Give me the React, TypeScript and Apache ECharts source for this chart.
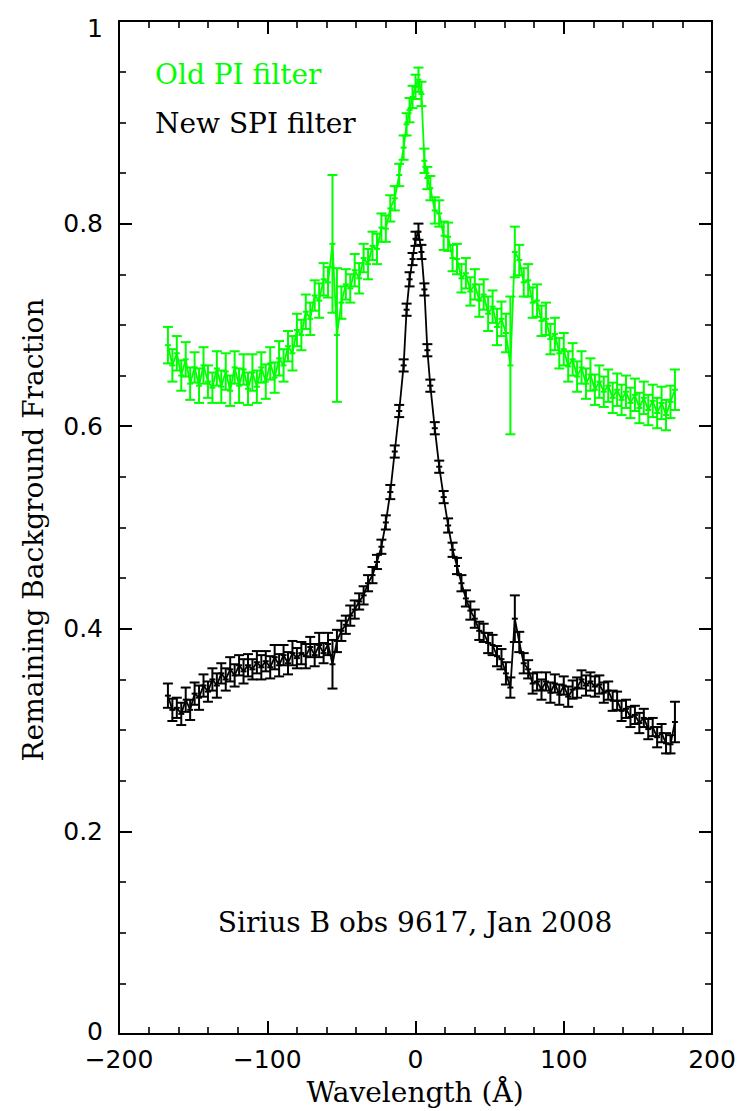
import React, { useEffect, useRef } from "react";
import * as echarts from "echarts";

const wavelength = [-167,-164,-161,-158,-155,-152,-149,-146,-143,-140,-137,-134,-131,-128,-125,-122,-119,-116,-113,-110,-107,-104,-101,-98,-95,-92,-89,-86,-83,-80,-77,-74,-71,-68,-65,-62,-59,-56,-53,-50,-47,-44,-41,-38,-35,-32,-29,-26,-23,-20,-17,-14,-11,-8,-6,-4,-2,0,2,4,6,8,10,13,16,19,22,25,28,31,34,37,40,43,46,49,52,55,58,61,64,67,70,73,76,79,82,85,88,91,94,97,100,103,106,109,112,115,118,121,124,127,130,133,136,139,142,145,148,151,154,157,160,163,166,169,172,175];

const oldPI = [
0.680,0.660,0.672,0.650,0.666,0.642,0.658,0.640,0.660,0.644,
0.638,0.657,0.639,0.654,0.635,0.658,0.640,0.656,0.637,0.653,
0.639,0.658,0.644,0.662,0.648,0.667,0.660,0.679,0.672,0.695,
0.690,0.713,0.706,0.729,0.724,0.745,0.742,0.780,0.690,0.722,
0.740,0.736,0.754,0.746,0.766,0.760,0.778,0.775,0.796,0.795,
0.815,
0.825,0.848,0.875,0.898,0.912,0.925,0.935,0.942,0.928,0.862,0.845,
0.835,0.813,0.810,0.788,0.787,0.766,0.765,0.746,0.751,0.733,
0.740,0.724,0.730,0.711,0.718,0.698,0.706,0.692,0.660,0.772,
0.764,0.742,0.744,0.722,0.724,0.704,0.706,0.686,0.691,0.672,
0.676,0.659,0.666,0.649,0.658,0.642,0.651,0.636,0.644,0.634,
0.640,0.628,0.636,0.626,0.634,0.623,0.631,0.618,0.628,0.616,
0.625,0.613,0.623,0.611,0.624,0.636];

const oldPIErr = [
0.018,0.016,0.017,0.015,0.017,0.016,0.015,0.017,0.018,0.016,
0.015,0.017,0.016,0.018,0.015,0.016,0.017,0.015,0.016,0.018,
0.016,0.015,0.017,0.016,0.015,0.017,0.016,0.015,0.017,0.016,
0.015,0.017,0.016,0.015,0.017,0.016,0.015,0.068,0.066,0.016,
0.015,0.014,0.016,0.015,0.014,0.015,0.014,0.015,0.014,0.013,
0.013,
0.012,0.011,0.012,0.011,0.012,0.011,0.012,0.012,0.012,0.012,0.011,
0.012,0.013,0.013,0.014,0.014,0.013,0.015,0.014,0.015,0.014,
0.015,0.016,0.015,0.017,0.016,0.018,0.017,0.019,0.068,0.025,
0.015,0.014,0.016,0.015,0.016,0.015,0.016,0.015,0.016,0.015,
0.016,0.015,0.016,0.015,0.016,0.015,0.016,0.015,0.016,0.015,
0.016,0.015,0.016,0.015,0.016,0.015,0.016,0.015,0.016,0.015,
0.016,0.015,0.016,0.015,0.016,0.020];

const newSPI = [
0.334,0.320,0.322,0.316,0.330,0.320,0.336,0.332,0.344,0.338,
0.350,0.344,0.356,0.350,0.360,0.354,0.364,0.358,0.364,0.360,
0.367,0.362,0.368,0.362,0.372,0.364,0.374,0.366,0.376,0.371,
0.376,0.373,0.382,0.374,0.384,0.376,0.385,0.365,0.388,0.398,
0.404,0.413,0.419,0.427,0.433,0.445,0.453,0.466,0.481,0.505,
0.535,
0.575,0.615,0.660,0.715,0.745,0.765,0.785,0.792,0.772,0.735,0.675,
0.640,0.598,0.560,0.530,0.502,0.478,0.462,0.445,0.430,0.418,
0.410,0.398,0.396,0.386,0.384,0.373,0.370,0.356,0.342,0.410,
0.387,0.366,0.360,0.346,0.348,0.340,0.348,0.337,0.346,0.335,
0.344,0.333,0.340,0.342,0.350,0.344,0.348,0.343,0.345,0.337,
0.339,0.329,0.329,0.319,0.321,0.313,0.315,0.307,0.312,0.301,
0.303,0.293,0.297,0.287,0.286,0.308];

const newSPIErr = [
0.012,0.011,0.010,0.011,0.012,0.010,0.011,0.012,0.011,0.010,
0.011,0.012,0.010,0.011,0.012,0.011,0.010,0.012,0.011,0.010,
0.011,0.012,0.010,0.011,0.012,0.011,0.010,0.011,0.012,0.010,
0.011,0.012,0.010,0.011,0.012,0.010,0.011,0.024,0.011,0.010,
0.009,0.010,0.009,0.008,0.009,0.008,0.008,0.007,0.007,0.007,
0.007,
0.006,0.006,0.006,0.006,0.007,0.006,0.007,0.008,0.007,0.006,0.006,
0.006,0.006,0.006,0.006,0.007,0.007,0.008,0.008,0.008,0.009,
0.009,0.009,0.009,0.010,0.010,0.010,0.010,0.011,0.010,0.023,
0.010,0.010,0.009,0.010,0.009,0.010,0.009,0.010,0.009,0.010,
0.009,0.010,0.009,0.010,0.009,0.010,0.009,0.010,0.009,0.010,
0.009,0.010,0.009,0.010,0.009,0.010,0.009,0.010,0.009,0.010,
0.009,0.010,0.009,0.010,0.009,0.020];

const xTicks = { min: -200, max: 200, interval: 100 };
const yTicks = { min: 0, max: 1, interval: 0.2 };

const GREEN = "#00ff00";
const BLACK = "#000000";
const SERIF = "DejaVu Serif";
const SANS = "DejaVu Sans";

function errorSeries(name: string, vals: number[], errs: number[], color: string) {
  const data = wavelength.map((x, i) => [x, vals[i], errs[i]]);
  return {
    name: name + " errors",
    type: "custom",
    xAxisIndex: 0,
    yAxisIndex: 0,
    encode: { x: 0, y: 1 },
    data,
    renderItem: (_params: any, api: any) => {
      const x = api.value(0);
      const y = api.value(1);
      const e = api.value(2);
      const top = api.coord([x, y + e]);
      const bot = api.coord([x, y - e]);
      const mid = api.coord([x, y]);
      const hw = 5;
      const st = { stroke: color, lineWidth: 2 };
      return {
        type: "group",
        children: [
          { type: "line", shape: { x1: top[0], y1: top[1], x2: bot[0], y2: bot[1] }, style: st },
          { type: "line", shape: { x1: top[0] - hw, y1: top[1], x2: top[0] + hw, y2: top[1] }, style: st },
          { type: "line", shape: { x1: bot[0] - hw, y1: bot[1], x2: bot[0] + hw, y2: bot[1] }, style: st },
          { type: "line", shape: { x1: mid[0] - 3, y1: mid[1], x2: mid[0] + 3, y2: mid[1] }, style: st },
        ],
      };
    },
    z: 3,
  };
}

function lineSeries(name: string, vals: number[], color: string) {
  return {
    name,
    type: "line",
    xAxisIndex: 0,
    yAxisIndex: 0,
    data: wavelength.map((x, i) => [x, vals[i]]),
    showSymbol: false,
    symbol: "none",
    lineStyle: { color, width: 1.8 },
    z: 4,
  };
}

const axisCommon = {
  axisLine: { show: true, onZero: false, lineStyle: { color: "#000", width: 2 } },
  axisTick: { show: true, inside: true, length: 13, lineStyle: { color: "#000", width: 2 } },
  minorTick: { show: true, length: 7, lineStyle: { color: "#000", width: 1.6 } },
  splitLine: { show: false },
};

export default function App() {
  const ref = useRef<HTMLDivElement>(null);
  useEffect(() => {
    if (!ref.current) return;
    const chart = echarts.init(ref.current, undefined, { renderer: "svg" });
    const option: any = {
      animation: false,
      backgroundColor: "#ffffff",
      grid: { left: 119, right: 30, top: 21, bottom: 77, containLabel: false, outerBoundsMode: "none" },
      xAxis: [
        {
          type: "value",
          position: "bottom",
          ...xTicks,
          ...axisCommon,
          minorTick: { ...axisCommon.minorTick, splitNumber: 5 },
          axisLabel: {
            show: true,
            margin: 15,
            lineHeight: 20,
            color: "#000",
            fontFamily: SANS,
            fontSize: 25,
            formatter: (v: number) => (v < 0 ? "\u2212" + Math.abs(v) : String(v)),
          },
        },
        {
          type: "value",
          position: "top",
          ...xTicks,
          ...axisCommon,
          minorTick: { ...axisCommon.minorTick, splitNumber: 5 },
          axisLabel: { show: false },
        },
      ],
      yAxis: [
        {
          type: "value",
          position: "left",
          ...yTicks,
          ...axisCommon,
          minorTick: { ...axisCommon.minorTick, splitNumber: 4 },
          axisLabel: {
            show: true,
            margin: 16,
            lineHeight: 18,
            color: "#000",
            fontFamily: SANS,
            fontSize: 25,
            formatter: (v: number) => {
              const s = String(Number(v.toFixed(1)));
              if (v >= 0.999) return "{t|" + s + "}";
              if (v <= 0.001) return "{b|" + s + "}";
              return s;
            },
            rich: {
              t: { padding: [14, 0, 0, 0], fontFamily: SANS, fontSize: 25, color: "#000", lineHeight: 18 },
              b: { padding: [0, 0, 6, 0], fontFamily: SANS, fontSize: 25, color: "#000", lineHeight: 18 },
            },
          },
        },
        {
          type: "value",
          position: "right",
          ...yTicks,
          ...axisCommon,
          minorTick: { ...axisCommon.minorTick, splitNumber: 4 },
          axisLabel: { show: false },
        },
      ],
      series: [
        errorSeries("Old PI filter", oldPI, oldPIErr, GREEN),
        lineSeries("Old PI filter", oldPI, GREEN),
        errorSeries("New SPI filter", newSPI, newSPIErr, BLACK),
        lineSeries("New SPI filter", newSPI, BLACK),
      ],
      graphic: [
        {
          type: "text",
          left: 155,
          top: 60,
          style: { text: "Old PI filter", fill: GREEN, font: `28px "${SERIF}"` },
        },
        {
          type: "text",
          left: 155,
          top: 109,
          style: { text: "New SPI filter", fill: BLACK, font: `28px "${SERIF}"` },
        },
        {
          type: "text",
          x: 415,
          y: 922,
          style: { text: "Sirius B obs 9617, Jan 2008", fill: BLACK, font: `28px "${SERIF}"`, align: "center", verticalAlign: "middle" },
        },
        {
          type: "text",
          x: 415,
          y: 1092,
          style: { text: "Wavelength (\u00c5)", fill: BLACK, font: `28px "${SERIF}"`, align: "center", verticalAlign: "middle" },
        },
        {
          type: "text",
          x: 33,
          y: 530,
          rotation: Math.PI / 2,
          style: { text: "Remaining Background Fraction", fill: BLACK, font: `28px "${SERIF}"`, align: "center", verticalAlign: "middle" },
        },
      ],
    };
    chart.setOption(option);
    return () => chart.dispose();
  }, []);
  return (
    <div
      ref={ref}
      style={{ position: "fixed", left: 0, top: 0, width: 742, height: 1111, background: "#fff" }}
    />
  );
}
